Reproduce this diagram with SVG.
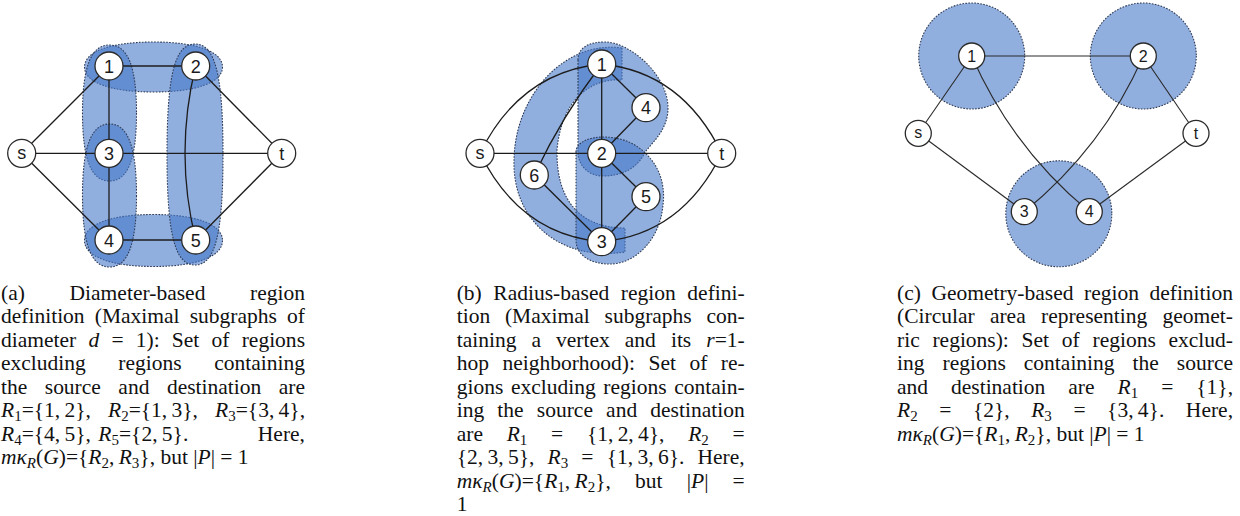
<svg xmlns="http://www.w3.org/2000/svg" width="1240" height="516" viewBox="0 0 1240 516">
<style>
.bg{fill:#fff}
.reg{fill:#4678c8;fill-opacity:.6;stroke:#2f3b55;stroke-width:1.1;stroke-dasharray:1.6 1.4}
.edge{stroke:#1c1c1c;stroke-width:1.3;fill:none}
.edgec{stroke:#2a2a2a;stroke-width:1.1;fill:none}
.nd{fill:#fff;stroke:#2a2a2a;stroke-width:1.3}
.nl{font-family:"Liberation Sans",Arial,sans-serif;font-size:18px;text-anchor:middle;fill:#1a1a1a}
.nlc{font-family:"Liberation Sans",Arial,sans-serif;font-size:16px;text-anchor:middle;fill:#1a1a1a}
.cap{font-family:"Liberation Serif","Times New Roman",serif;font-size:21.5px;fill:#111}
.i{font-style:italic}
.sb{font-size:15px}
</style>
<rect class="bg" x="0" y="0" width="1240" height="516"/>

<!-- Panel (a) -->
<g id="regions-a">
<path class="reg" d="M222.5,67 C222.5,82.5 196.3,92 153.5,92 C110.7,92 84.5,82.5 84.5,67 C84.5,51.5 110.7,42 153.5,42 C196.3,42 222.5,51.5 222.5,67 Z"/>
<path class="reg" d="M222.5,240.5 C222.5,256.6 196.3,266.5 153.5,266.5 C110.7,266.5 84.5,256.6 84.5,240.5 C84.5,224.4 110.7,214.5 153.5,214.5 C196.3,214.5 222.5,224.4 222.5,240.5 Z"/>
<path class="reg" d="M136.5,113 C136.5,159.2 127.9,181 109.5,181 C91.1,181 82.5,159.2 82.5,113 C82.5,66.8 91.1,45 109.5,45 C127.9,45 136.5,66.8 136.5,113 Z"/>
<path class="reg" d="M136.5,195.5 C136.5,244.1 127.9,267 109.5,267 C91.1,267 82.5,244.1 82.5,195.5 C82.5,146.9 91.1,124 109.5,124 C127.9,124 136.5,146.9 136.5,195.5 Z"/>
<path class="reg" d="M223,154.5 C223,234.1 215.2,265 195,265 C174.8,265 167,234.1 167,154.5 C167,74.9 174.8,44 195,44 C215.2,44 223,74.9 223,154.5 Z"/>
</g>
<g id="connectors-a">
<line class="edge" x1="21.7" y1="153.3" x2="281.7" y2="153.3"/>
<line class="edge" x1="21.7" y1="153.3" x2="109" y2="66"/>
<line class="edge" x1="21.7" y1="153.3" x2="109" y2="240"/>
<line class="edge" x1="109" y1="66" x2="195.7" y2="66"/>
<line class="edge" x1="109" y1="240" x2="195.7" y2="240"/>
<line class="edge" x1="109" y1="66" x2="109" y2="240"/>
<path class="edge" d="M195.7,66 Q174.3,153 195.7,240"/>
<line class="edge" x1="195.7" y1="66" x2="281.7" y2="153.3"/>
<line class="edge" x1="195.7" y1="240" x2="281.7" y2="153.3"/>
</g>
<g id="a-s"><circle class="nd" cx="21.7" cy="153.3" r="14"/><text class="nl" x="21.7" y="158.5">s</text></g>
<g id="a-t"><circle class="nd" cx="281.7" cy="153.3" r="14"/><text class="nl" x="281.7" y="159.5">t</text></g>
<g id="a-1"><circle class="nd" cx="109" cy="66" r="14"/><text class="nl" x="109" y="72.5">1</text></g>
<g id="a-2"><circle class="nd" cx="195.7" cy="66" r="14"/><text class="nl" x="195.7" y="72.5">2</text></g>
<g id="a-3"><circle class="nd" cx="109" cy="153.3" r="14"/><text class="nl" x="109" y="159.8">3</text></g>
<g id="a-4"><circle class="nd" cx="109" cy="240" r="14"/><text class="nl" x="109" y="246.5">4</text></g>
<g id="a-5"><circle class="nd" cx="195.7" cy="240" r="14"/><text class="nl" x="195.7" y="246.5">5</text></g>

<!-- Panel (b) -->
<g id="regions-b">
<path class="reg" d="M622,48 L622,80 C595,78 562,95 557,150 C556,200 580,228 625,228 L625,252 C560,262 512,220 514,160 C515,95 565,40 622,48 Z"/>
<path class="reg" d="M578,60 C578,48 588,42 605,42 C630,42 668,75 668,108 C668,128 655,140 645,152 C638,168 622,176 603,176 C588,176 578,165 578,152 Z"/>
<path class="reg" d="M576,152 C576,143 588,137 603,137 C625,137 640,146 650,158 C662,172 665,190 663,205 C660,240 635,264 610,264 C590,264 576,255 576,240 Z"/>
</g>
<g id="connectors-b">
<line class="edge" x1="480" y1="153.3" x2="721.7" y2="153.3"/>
<line class="edge" x1="601.7" y1="64" x2="601.7" y2="241.7"/>
<line class="edge" x1="601.7" y1="64" x2="646" y2="107.7"/>
<line class="edge" x1="646" y1="107.7" x2="601.7" y2="153.3"/>
<line class="edge" x1="601.7" y1="153.3" x2="646" y2="196.7"/>
<line class="edge" x1="646" y1="196.7" x2="601.7" y2="241.7"/>
<line class="edge" x1="534.3" y1="175" x2="601.7" y2="241.7"/>
<path class="edge" d="M534.3,175 Q562.2,115.9 601.7,64"/>
<path class="edge" d="M480,153.3 Q520,72 601.7,64"/>
<path class="edge" d="M601.7,64 Q682,72 721.7,153.3"/>
<path class="edge" d="M480,153.3 Q520,234.6 601.7,241.7"/>
<path class="edge" d="M601.7,241.7 Q682,234.6 721.7,153.3"/>
</g>
<g id="b-s"><circle class="nd" cx="480" cy="153.3" r="14"/><text class="nl" x="480" y="158.5">s</text></g>
<g id="b-t"><circle class="nd" cx="721.7" cy="153.3" r="14"/><text class="nl" x="721.7" y="159.5">t</text></g>
<g id="b-1"><circle class="nd" cx="601.7" cy="64" r="14"/><text class="nl" x="601.7" y="70.5">1</text></g>
<g id="b-2"><circle class="nd" cx="601.7" cy="153.3" r="14"/><text class="nl" x="601.7" y="159.8">2</text></g>
<g id="b-3"><circle class="nd" cx="601.7" cy="241.7" r="14"/><text class="nl" x="601.7" y="248.2">3</text></g>
<g id="b-4"><circle class="nd" cx="646" cy="107.7" r="14"/><text class="nl" x="646" y="114.2">4</text></g>
<g id="b-5"><circle class="nd" cx="646" cy="196.7" r="14"/><text class="nl" x="646" y="203.2">5</text></g>
<g id="b-6"><circle class="nd" cx="534.3" cy="175" r="14"/><text class="nl" x="534.3" y="181.5">6</text></g>

<!-- Panel (c) -->
<g id="regions-c">
<circle class="reg" cx="971.7" cy="56" r="53"/>
<circle class="reg" cx="1143.3" cy="56" r="53"/>
<circle class="reg" cx="1058.8" cy="213.8" r="53"/>
</g>
<g id="connectors-c">
<line class="edgec" x1="971.7" y1="56" x2="1143.3" y2="56"/>
<line class="edgec" x1="918.3" y1="133.3" x2="971.7" y2="56"/>
<line class="edgec" x1="918.3" y1="133.3" x2="1024.3" y2="211.7"/>
<path class="edgec" d="M971.7,56 Q1012,147.8 1089.3,211.7"/>
<path class="edgec" d="M1143.3,56 Q1103,147.8 1024.3,211.7"/>
<line class="edgec" x1="1143.3" y1="56" x2="1196" y2="133.3"/>
<line class="edgec" x1="1196" y1="133.3" x2="1089.3" y2="211.7"/>
</g>
<g id="c-s"><circle class="nd" cx="918.3" cy="133.3" r="13"/><text class="nlc" x="918.3" y="138">s</text></g>
<g id="c-t"><circle class="nd" cx="1196" cy="133.3" r="13"/><text class="nlc" x="1196" y="139">t</text></g>
<g id="c-1"><circle class="nd" cx="971.7" cy="56" r="13"/><text class="nlc" x="971.7" y="61.7">1</text></g>
<g id="c-2"><circle class="nd" cx="1143.3" cy="56" r="13"/><text class="nlc" x="1143.3" y="61.7">2</text></g>
<g id="c-3"><circle class="nd" cx="1024.3" cy="211.7" r="13"/><text class="nlc" x="1024.3" y="217.4">3</text></g>
<g id="c-4"><circle class="nd" cx="1089.3" cy="211.7" r="13"/><text class="nlc" x="1089.3" y="217.4">4</text></g>

<!-- Captions -->
<g id="caption-a" class="cap">
<text x="1" y="299.5" word-spacing="39.2" textLength="304" lengthAdjust="spacing">(a) Diameter-based region</text>
<text x="1" y="323" word-spacing="4.8" textLength="304" lengthAdjust="spacing">definition (Maximal subgraphs of</text>
<text x="1" y="346.5" word-spacing="6.8" textLength="304" lengthAdjust="spacing">diameter <tspan class="i">d</tspan> = 1): Set of regions</text>
<text x="1" y="370" word-spacing="27.2" textLength="304" lengthAdjust="spacing">excluding regions containing</text>
<text x="1" y="393.5" word-spacing="12.1" textLength="304" lengthAdjust="spacing">the source and destination are</text>
<text x="1" y="417" word-spacing="11.7" textLength="304" lengthAdjust="spacing"><tspan class="i">R</tspan><tspan class="sb" dy="4">1</tspan><tspan dy="-4">={1,&#8201;2}, </tspan><tspan class="i">R</tspan><tspan class="sb" dy="4">2</tspan><tspan dy="-4">={1,&#8201;3}, </tspan><tspan class="i">R</tspan><tspan class="sb" dy="4">3</tspan><tspan dy="-4">={3,&#8201;4},</tspan></text>
<text x="1" y="440.5" word-spacing="2"><tspan class="i">R</tspan><tspan class="sb" dy="4">4</tspan><tspan dy="-4">={4,&#8201;5}, </tspan><tspan class="i">R</tspan><tspan class="sb" dy="4">5</tspan><tspan dy="-4">={2,&#8201;5}.</tspan></text>
<text x="305" y="440.5" text-anchor="end">Here,</text>
<text x="1" y="464"><tspan class="i">mκ</tspan><tspan class="i sb" dy="4">R</tspan><tspan dy="-4">(</tspan><tspan class="i">G</tspan><tspan>)={</tspan><tspan class="i">R</tspan><tspan class="sb" dy="4">2</tspan><tspan dy="-4">,&#8201;</tspan><tspan class="i">R</tspan><tspan class="sb" dy="4">3</tspan><tspan dy="-4">}, but |</tspan><tspan class="i">P</tspan><tspan>| = 1</tspan></text>
</g>

<g id="caption-b" class="cap">
<text x="456.7" y="299.5" word-spacing="6.2" textLength="288" lengthAdjust="spacing">(b) Radius-based region defini-</text>
<text x="456.7" y="323" word-spacing="9.4" textLength="288" lengthAdjust="spacing">tion (Maximal subgraphs con-</text>
<text x="456.7" y="346.5" word-spacing="9.7" textLength="288" lengthAdjust="spacing">taining a vertex and its <tspan class="i">r</tspan>=1-</text>
<text x="456.7" y="370" word-spacing="8.1" textLength="288" lengthAdjust="spacing">hop neighborhood): Set of re-</text>
<text x="456.7" y="393.5" word-spacing="2.3" textLength="288" lengthAdjust="spacing">gions excluding regions contain-</text>
<text x="456.7" y="417" word-spacing="7.8" textLength="288" lengthAdjust="spacing">ing the source and destination</text>
<text x="456.7" y="440.5" word-spacing="18.4" textLength="288" lengthAdjust="spacing">are <tspan class="i">R</tspan><tspan class="sb" dy="4">1</tspan><tspan dy="-4"> = {1,&#8201;2,&#8201;4}, </tspan><tspan class="i">R</tspan><tspan class="sb" dy="4">2</tspan><tspan dy="-4"> =</tspan></text>
<text x="456.7" y="464" word-spacing="7.8" textLength="288" lengthAdjust="spacing">{2,&#8201;3,&#8201;5}, <tspan class="i">R</tspan><tspan class="sb" dy="4">3</tspan><tspan dy="-4"> = {1,&#8201;3,&#8201;6}. Here,</tspan></text>
<text x="456.7" y="487.5" word-spacing="18.7" textLength="288" lengthAdjust="spacing"><tspan class="i">mκ</tspan><tspan class="i sb" dy="4">R</tspan><tspan dy="-4">(</tspan><tspan class="i">G</tspan><tspan>)={</tspan><tspan class="i">R</tspan><tspan class="sb" dy="4">1</tspan><tspan dy="-4">,&#8201;</tspan><tspan class="i">R</tspan><tspan class="sb" dy="4">2</tspan><tspan dy="-4">}, but |</tspan><tspan class="i">P</tspan><tspan>| =</tspan></text>
<text x="456.7" y="511">1</text>
</g>

<g id="caption-c" class="cap">
<text x="897" y="299.5" word-spacing="5.2" textLength="336" lengthAdjust="spacing">(c) Geometry-based region definition</text>
<text x="897" y="323" word-spacing="9.9" textLength="336" lengthAdjust="spacing">(Circular area representing geomet-</text>
<text x="897" y="346.5" word-spacing="7.4" textLength="336" lengthAdjust="spacing">ric regions): Set of regions exclud-</text>
<text x="897" y="370" word-spacing="12.6" textLength="336" lengthAdjust="spacing">ing regions containing the source</text>
<text x="897" y="393.5" word-spacing="17.6" textLength="336" lengthAdjust="spacing">and destination are <tspan class="i">R</tspan><tspan class="sb" dy="4">1</tspan><tspan dy="-4"> = {1},</tspan></text>
<text x="897" y="417" word-spacing="16.2" textLength="336" lengthAdjust="spacing"><tspan class="i">R</tspan><tspan class="sb" dy="4">2</tspan><tspan dy="-4"> = {2}, </tspan><tspan class="i">R</tspan><tspan class="sb" dy="4">3</tspan><tspan dy="-4"> = {3,&#8201;4}. Here,</tspan></text>
<text x="897" y="440.5"><tspan class="i">mκ</tspan><tspan class="i sb" dy="4">R</tspan><tspan dy="-4">(</tspan><tspan class="i">G</tspan><tspan>)={</tspan><tspan class="i">R</tspan><tspan class="sb" dy="4">1</tspan><tspan dy="-4">,&#8201;</tspan><tspan class="i">R</tspan><tspan class="sb" dy="4">2</tspan><tspan dy="-4">}, but |</tspan><tspan class="i">P</tspan><tspan>| = 1</tspan></text>
</g>
</svg>
